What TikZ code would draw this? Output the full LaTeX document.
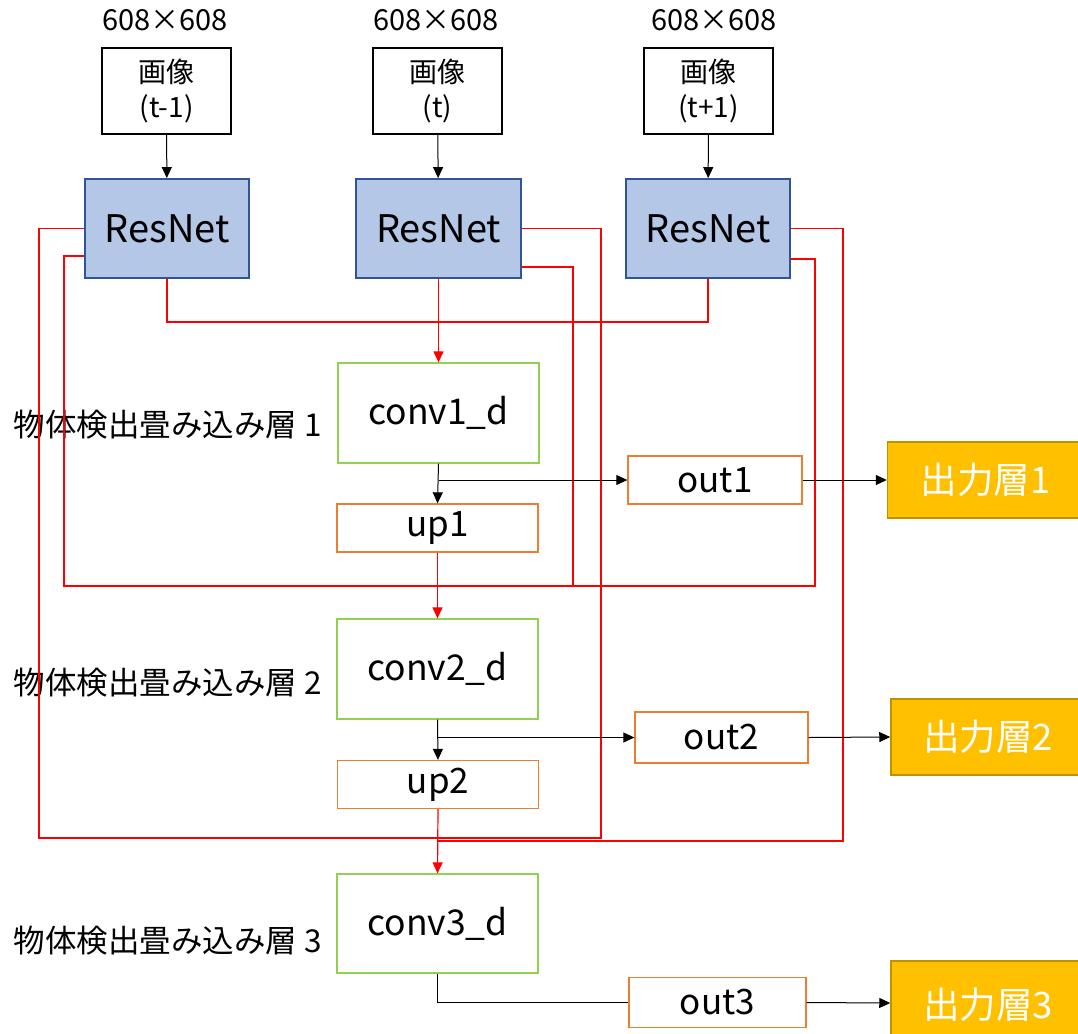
\documentclass[tikz,border=0pt]{standalone}
\usepackage{fontspec}
\setmainfont{Noto Sans CJK JP}
\usetikzlibrary{arrows.meta}

\definecolor{resfill}{HTML}{B4C7E7}
\definecolor{resline}{HTML}{2F5597}
\definecolor{convline}{HTML}{92D050}
\definecolor{upline}{HTML}{ED7D31}
\definecolor{headfill}{HTML}{FFC000}
\definecolor{headline}{HTML}{BF9000}
\definecolor{skipred}{HTML}{FF0000}

\tikzset{
  imgbox/.style={draw=black, line width=1.5pt, fill=white, minimum width=129pt,
    minimum height=86pt, align=center, inner sep=0pt, font=\fontsize{28}{35}\selectfont},
  resbox/.style={draw=resline, fill=resfill, line width=1.8pt, minimum width=164pt,
    minimum height=99pt, inner sep=0pt, font=\fontsize{38}{44}\selectfont},
  convbox/.style={draw=convline, line width=1.3pt, minimum width=201pt,
    minimum height=100pt, inner sep=0pt, font=\fontsize{35.5}{42}\selectfont},
  upbox/.style={draw=upline, line width=1.3pt, minimum width=201pt,
    minimum height=48pt, inner sep=0pt, font=\fontsize{35}{40}\selectfont},
  outbox/.style={draw=upline, line width=1.3pt, minimum width=174pt,
    minimum height=48pt, inner sep=0pt, font=\fontsize{35}{40}\selectfont},
  headbox/.style={draw=headline, fill=headfill, line width=1.5pt, text=white,
    minimum width=196pt, inner sep=0pt, font=\fontsize{36.5}{42}\selectfont},
  layerlabel/.style={font=\fontsize{31.5}{36}\selectfont, inner sep=0pt},
  sizelabel/.style={font=\fontsize{29}{34}\selectfont, inner sep=0pt},
  blk/.style={draw=black, line width=1pt},
  blkarrow/.style={blk, -{Triangle[length=11pt,width=10pt]}},
  skip/.style={draw=skipred, line width=1.2pt},
  skiparrow/.style={skip, -{Triangle[length=11pt,width=10pt]}},
}

\begin{document}
\begin{tikzpicture}[x=1pt, y=-1pt]
\useasboundingbox (0,0) rectangle (1078,1033);

% input frames
\node[sizelabel] (sz1) at (165,20) {608×608};
\node[sizelabel] (sz2) at (436,20) {608×608};
\node[sizelabel] (sz3) at (714,20) {608×608};
\node[imgbox] (img1) at (166.5,91) {画像\\(t-1)};
\node[imgbox] (img2) at (437.5,91) {画像\\(t)};
\node[imgbox] (img3) at (708.5,91) {画像\\(t+1)};

% backbones
\node[resbox] (res1) at (167,228.5) {ResNet};
\node[resbox, minimum width=165pt] (res2) at (438.5,228.5) {ResNet};
\node[resbox] (res3) at (708,228.5) {ResNet};

% detection stages
\node[convbox] (conv1) at (438.5,413) {conv1\_d};
\node[upbox] (up1) at (437.5,528) {up1};
\node[outbox] (out1) at (715,480) {out1};
\node[headbox, minimum height=76pt] (head1) at (985.5,480) {出力層1};

\node[convbox] (conv2) at (437.5,669) {conv2\_d};
\node[upbox] (up2) at (438,784.5) {up2};
\node[outbox, minimum width=173pt, minimum height=51pt] (out2) at (721.5,737.5) {out2};
\node[headbox, minimum width=194pt, minimum height=76pt] (head2) at (988,737) {出力層2};

\node[convbox, minimum height=99pt] (conv3) at (437.5,923.5) {conv3\_d};
\node[outbox, minimum width=177pt, minimum height=50pt] (out3) at (717.5,1002.5) {out3};
\node[headbox, minimum width=194pt, minimum height=84pt, text depth=0pt] (head3) at (988,1003) {出力層3};

\node[layerlabel] (lab1) at (168,425) {物体検出畳み込み層 1};
\node[layerlabel] (lab2) at (168,683) {物体検出畳み込み層 2};
\node[layerlabel] (lab3) at (168,941) {物体検出畳み込み層 3};

% frames into backbones
\draw[blkarrow] (img1) -- (res1);
\draw[blkarrow] (img2) -- (res2);
\draw[blkarrow] (img3) -- (res3);

% backbone features merged into the first stage
\draw[skip] (res1.south) -- (167,322) -- (708,322) -- (res3.south);
\draw[skiparrow] (res2.south) -- (conv1.north);

% skip connections towards the second stage
\draw[skip] (res1.west |- 0,256) -- (64,256) -- (64,586) -- (573,586) -- (573,267) -- (res2.east |- 0,267);
\draw[skip] (res3.east |- 0,259) -- (815,259) -- (815,586) -- (452,586);

% skip connections towards the third stage
\draw[skip] (res1.west) -- (39,228.5) -- (39,838) -- (601,838) -- (601,228.5) -- (res2.east);
\draw[skip] (res3.east) -- (843,228.5) -- (843,841) -- (437,841);

% stage 1
\draw[blkarrow] (conv1.south) -- (up1.north);
\draw[blkarrow] (conv1.south |- out1.west) -- (out1.west);
\draw[blkarrow] (out1.east) -- (head1.west);
\draw[skiparrow] (up1.south) -- (conv2.north);

% stage 2
\draw[blkarrow] (conv2.south) -- (up2.north);
\draw[blkarrow] (conv2.south |- out2.west) -- (out2.west);
\draw[blkarrow] (out2.east) -- (head2.west);
\draw[skiparrow] (up2.south) -- (conv3.north);

% stage 3
\draw[blk] (conv3.south) |- (out3.west);
\draw[blkarrow] (out3.east) -- (head3.west);
\end{tikzpicture}
\end{document}
